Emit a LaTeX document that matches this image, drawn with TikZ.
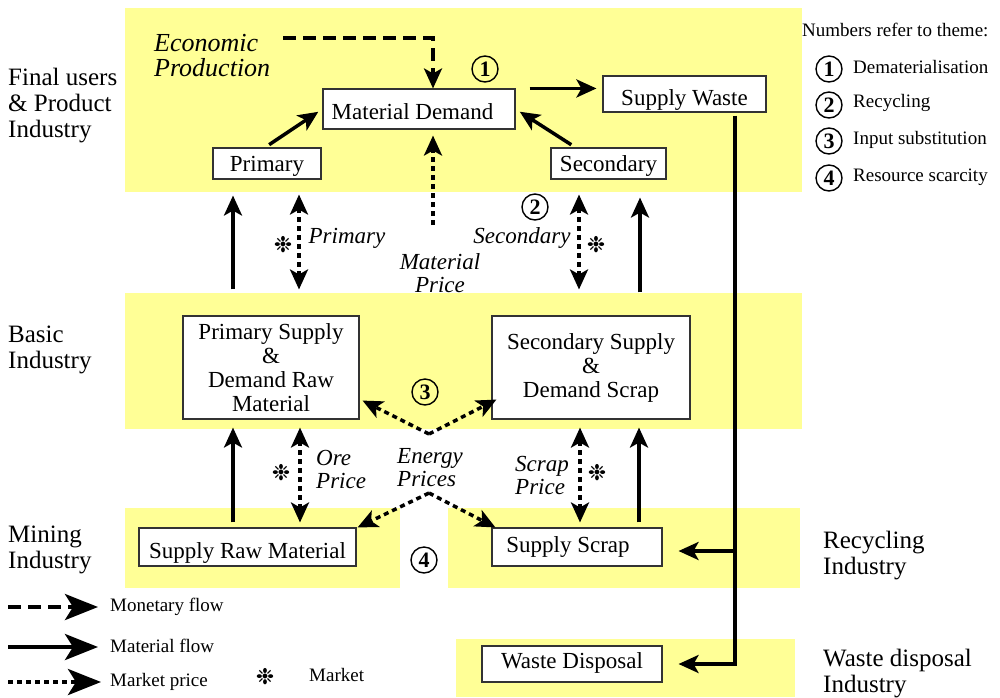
\documentclass[tikz,border=0pt]{standalone}
\usepackage{fontspec}
\setmainfont{Liberation Serif}
\newfontfamily\dejavu{DejaVu Sans}
\usetikzlibrary{arrows.meta,calc}
\definecolor{band}{RGB}{255,255,150}
\newcommand{\mkt}{{\dejavu\fontsize{22}{22}\selectfont ❉}}
\begin{document}
\begin{tikzpicture}[x=1pt,y=-1pt,
  boxstyle/.style={draw=black!80, line width=1.1pt, fill=white, inner sep=0pt, align=center,
     font=\fontsize{23}{24}\selectfont},
  catlabel/.style={anchor=west, align=left, inner sep=0pt, font=\fontsize{25}{26}\selectfont},
  itlabel/.style={inner sep=0pt, font=\fontsize{23}{23.5}\selectfont\itshape},
  legtext/.style={anchor=west, inner sep=0pt, font=\fontsize{19}{20}\selectfont},
  circnum/.style={circle, draw, line width=1.4pt, minimum size=26pt, inner sep=0pt,
     font=\fontsize{22}{22}\selectfont\bfseries},
  mktsym/.style={inner sep=0pt},
  bigtip/.tip={Stealth[length=20pt,width=18pt,inset=5pt]},
  legtip/.tip={Stealth[length=33pt,width=26pt,inset=8pt]},
  mat/.style={line width=3.5pt, -bigtip},
  price/.style={line width=3.5pt, dash pattern=on 5pt off 4pt, -bigtip},
  pricetwo/.style={line width=3.5pt, dash pattern=on 5pt off 4pt, bigtip-bigtip},
  money/.style={line width=3.5pt, dash pattern=on 13pt off 7pt, -bigtip}
]
\useasboundingbox (0,0) rectangle (1000,697);
\fill[white] (0,0) rectangle (1000,697);

% bands
\fill[band] (125,8) rectangle (802,192);
\fill[band] (125,293) rectangle (802,429);
\fill[band] (125,508) rectangle (400,588);
\fill[band] (448,508) rectangle (800,588);
\fill[band] (456,639) rectangle (795,697);

% boxes
\node[boxstyle, minimum width=192, minimum height=40, text height=22pt, text depth=2pt] (md) at (419,109) {Material Demand\hspace{13pt}};
\node[boxstyle, minimum width=108, minimum height=31, text height=18pt, text depth=3pt] (prim) at (267,163.5) {Primary};
\node[boxstyle, minimum width=163, minimum height=36, text height=23pt, text depth=1pt] (sw) at (684.5,94) {Supply Waste};
\node[boxstyle, minimum width=115, minimum height=31, text height=18pt, text depth=3pt] (sec) at (608.5,163.5) {Secondary};
\node[boxstyle, minimum width=176, minimum height=103] (psd) at (271,367.5) {Primary Supply\\\&\\Demand Raw\\Material};
\node[boxstyle, minimum width=198, minimum height=103] (ssd) at (591,367.5) {Secondary Supply\\\&\\Demand Scrap};
\node[boxstyle, minimum width=217, minimum height=38, text height=23pt, text depth=1pt] (srm) at (247.5,547) {Supply Raw Material};
\node[boxstyle, minimum width=170, minimum height=38, text height=16pt, text depth=6pt] (ss) at (577,547) {Supply Scrap\hspace{18pt}};
\node[boxstyle, minimum width=180, minimum height=36, text height=16pt, text depth=8pt] (wd) at (572,664) {Waste Disposal};

% category labels
\node[catlabel] (lfinal) at (8,106) {Final users\\\& Product\\Industry};
\node[catlabel] (lbasic) at (8,349.5) {Basic\\Industry};
\node[catlabel] (lmining) at (8,549.5) {Mining\\Industry};
\node[catlabel] (lrec) at (823,556) {Recycling\\Industry};
\node[catlabel] (lwaste) at (823,674) {Waste disposal\\Industry};

% italic labels
\node[inner sep=0pt, anchor=west, align=left, font=\fontsize{26}{25}\selectfont\itshape] (econ) at (154,55.5) {Economic\\Production};
\node[itlabel] (lprim) at (347,238) {Primary};
\node[itlabel] (lsec) at (522,238) {Secondary};
\node[itlabel, align=center] (lmp) at (440,273) {Material\\Price};
\node[itlabel, anchor=west, align=left] (lore) at (316,469.5) {Ore\\Price};
\node[itlabel, anchor=west, align=left] (ep) at (397,467.5) {Energy\\Prices};
\node[itlabel, anchor=west, align=left] (lscrap) at (515,475.5) {Scrap\\Price};

% market symbols
\node[mktsym] (m1) at (283,245) {\mkt};
\node[mktsym] (m2) at (596,245) {\mkt};
\node[mktsym] (m3) at (281,473) {\mkt};
\node[mktsym] (m4) at (597,473) {\mkt};

% theme numbers
\node[circnum] (n1) at (485,69) {1};
\node[circnum] (n2) at (535,207) {2};
\node[circnum] (n3) at (425,392) {3};
\node[circnum] (n4) at (424,560) {4};

% legend (themes)
\node[legtext] (ltitle) at (802,30) {Numbers refer to theme:};
\node[circnum] (ln1) at (829,69) {1};
\node[legtext] (lt1) at (853,67) {Dematerialisation};
\node[circnum] (ln2) at (829,105) {2};
\node[legtext] (lt2) at (853,103) {Recycling};
\node[circnum] (ln3) at (829,141) {3};
\node[legtext] (lt3) at (853,140) {Input substitution};
\node[circnum] (ln4) at (829,178) {4};
\node[legtext] (lt4) at (853,177) {Resource scarcity};

% top connectors
\coordinate (econstart) at (283,38);
\draw[money] (econstart) -| ([xshift=14pt]md.north);
\draw[mat, shorten <=5pt, shorten >=5pt] ([xshift=-2pt]prim.north) -- (md.west);
\draw[mat, shorten <=5pt, shorten >=5pt] ([xshift=-33pt]sec.north) -- (md.east);
\draw[mat] ([xshift=14pt]md.north east) -- ([xshift=-6pt]sw.west |- md.north east);
\coordinate (mpstart) at (433,225);
\draw[price, shorten >=6pt] (mpstart) -- ([xshift=14pt]md.south);

% basic <-> final users
\draw[mat, shorten <=26pt, shorten >=16pt] ([xshift=-38pt]psd.north) -- ([xshift=-38pt]psd.north |- prim.south);
\draw[pricetwo, shorten <=26pt, shorten >=15pt] ([xshift=28pt]psd.north) -- ([xshift=28pt]psd.north |- prim.south);
\draw[pricetwo, shorten <=26pt, shorten >=15pt] ([xshift=-12pt]ssd.north) -- ([xshift=-12pt]ssd.north |- sec.south);
\draw[mat, shorten <=23pt, shorten >=18pt] ([xshift=49pt]ssd.north) -- ([xshift=49pt]ssd.north |- sec.south);

% mining/recycling <-> basic
\draw[mat, shorten <=5pt, shorten >=8pt] ([xshift=-38pt]psd.south |- srm.north) -- ([xshift=-38pt]psd.south);
\draw[pricetwo, shorten <=5pt, shorten >=8pt] ([xshift=29pt]psd.south |- srm.north) -- ([xshift=29pt]psd.south);
\draw[pricetwo, shorten <=5pt, shorten >=8pt] ([xshift=-11pt]ssd.south |- ss.north) -- ([xshift=-11pt]ssd.south);
\draw[mat, shorten <=5pt, shorten >=8pt] ([xshift=48pt]ssd.south |- ss.north) -- ([xshift=48pt]ssd.south);

% energy prices
\coordinate (ept) at (429,434);
\coordinate (epb) at (429,493);
\draw[price] (ept) -- ([shift={(3,-19)}]psd.south east);
\draw[price] (ept) -- ([shift={(5,-20)}]ssd.south west);
\draw[price] (epb) -- ([shift={(1,0)}]srm.north east);
\draw[price] (epb) -- ([xshift=4pt]ss.north west);

% waste flows
\coordinate (j1) at (735,551);
\draw[mat] ([yshift=-3pt]sw.south -| j1) |- ([xshift=16pt]wd.east);
\draw[mat] (j1) -- ([xshift=16pt]ss.east |- j1);

% legend (flows)
\node[legtext] (lgm) at (110,607) {Monetary flow};
\node[legtext] (lgf) at (110,646) {Material flow};
\node[legtext] (lgp) at (110,682) {Market price};
\coordinate (lgms) at (8,607);
\coordinate (lgfs) at (8,647);
\coordinate (lgps) at (8,682);
\draw[line width=4pt, dash pattern=on 13pt off 7pt, -legtip, shorten >=12pt] (lgms) -- (lgm.west);
\draw[line width=4pt, -legtip, shorten >=12pt] (lgfs) -- (lgf.west |- lgfs);
\draw[line width=4pt, dash pattern=on 5pt off 4pt, -legtip, shorten >=9pt] (lgps) -- (lgp.west);
\node[mktsym] (lgmk) at (265,677) {\mkt};
\node[legtext] (lgmt) at (309,675) {Market};
\end{tikzpicture}
\end{document}
